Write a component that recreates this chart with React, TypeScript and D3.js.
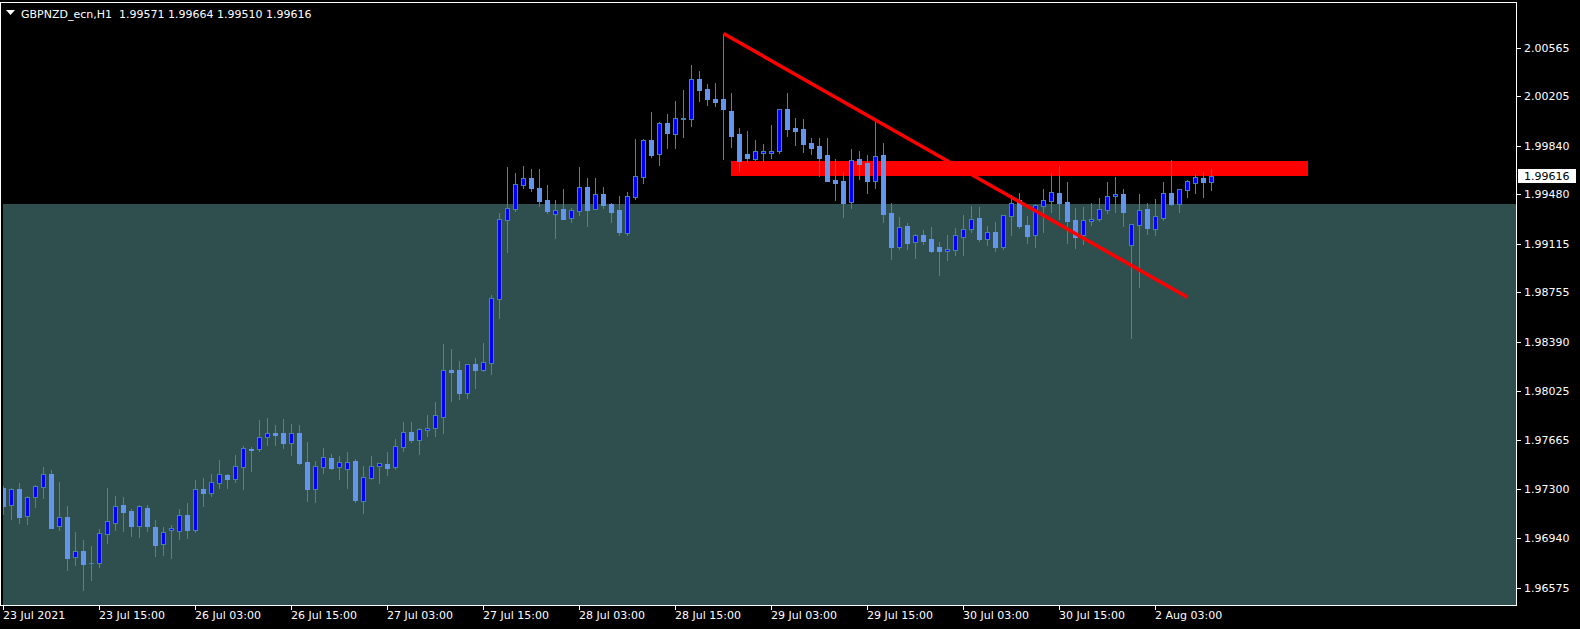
import React from 'react';
import * as d3 from 'd3';

const W = 1580;
const H = 629;

const opens = [1.97310,1.97182,1.97301,1.97101,1.97241,1.97315,1.97414,1.97027,1.97096,1.96798,1.96845,1.96754,1.96754,1.96968,1.97049,1.97185,1.97140,1.97032,1.97162,1.97022,1.96894,1.97002,1.96990,1.97111,1.97002,1.97303,1.97275,1.97349,1.97404,1.97379,1.97468,1.97601,1.97601,1.97685,1.97717,1.97713,1.97645,1.97713,1.97502,1.97305,1.97468,1.97532,1.97468,1.97453,1.97510,1.97212,1.97386,1.97471,1.97488,1.97468,1.97615,1.97724,1.97667,1.97741,1.97756,1.97837,1.98182,1.98182,1.98014,1.98227,1.98182,1.98236,1.98709,1.99293,1.99372,1.99551,1.99601,1.99527,1.99438,1.99332,1.99372,1.99307,1.99359,1.99534,1.99374,1.99483,1.99409,1.99364,1.99197,1.99463,1.99610,1.99881,1.99780,2.00007,1.99928,2.00037,2.00039,2.00332,2.00258,2.00184,2.00184,2.00096,1.99926,1.99778,1.99743,1.99788,1.99788,1.99802,2.00111,1.99970,1.99963,1.99859,1.99837,1.99771,1.99588,1.99579,1.99426,1.99741,1.99712,1.99581,1.99771,1.99342,1.99093,1.99246,1.99126,1.99180,1.99150,1.99091,1.99061,1.99067,1.99167,1.99222,1.99305,1.99152,1.99202,1.99093,1.99322,1.99438,1.99253,1.99177,1.99396,1.99433,1.99490,1.99423,1.99290,1.99177,1.99285,1.99300,1.99366,1.99466,1.99483,1.99108,1.99256,1.99372,1.99226,1.99307,1.99490,1.99411,1.99510,1.99566,1.99601,1.99571];
const highs = [1.97325,1.97310,1.97345,1.97251,1.97335,1.97465,1.97443,1.97355,1.97177,1.96985,1.96926,1.96882,1.97005,1.97310,1.97251,1.97244,1.97157,1.97187,1.97182,1.97074,1.97024,1.97035,1.97155,1.97199,1.97369,1.97384,1.97414,1.97517,1.97414,1.97554,1.97621,1.97613,1.97813,1.97827,1.97776,1.97818,1.97783,1.97776,1.97650,1.97512,1.97606,1.97561,1.97547,1.97576,1.97524,1.97473,1.97547,1.97493,1.97576,1.97672,1.97798,1.97798,1.97751,1.97850,1.97946,1.98374,1.98337,1.98249,1.98225,1.98272,1.98382,1.98736,1.99342,1.99682,1.99638,1.99689,1.99667,1.99667,1.99549,1.99438,1.99520,1.99379,1.99682,1.99601,1.99601,1.99534,1.99416,1.99468,1.99497,1.99889,1.99889,2.00088,2.00014,2.00074,2.00170,2.00251,2.00436,2.00391,2.00295,2.00303,2.00668,2.00229,1.99970,1.99948,1.99881,1.99852,1.99992,2.00108,2.00229,2.00044,2.00037,1.99896,1.99896,1.99896,1.99741,1.99645,1.99815,1.99800,1.99771,2.00014,1.99859,1.99416,1.99313,1.99268,1.99185,1.99219,1.99239,1.99128,1.99180,1.99231,1.99327,1.99394,1.99386,1.99246,1.99276,1.99327,1.99475,1.99490,1.99320,1.99409,1.99520,1.99638,1.99689,1.99571,1.99377,1.99386,1.99416,1.99453,1.99571,1.99608,1.99520,1.99259,1.99483,1.99416,1.99446,1.99571,1.99734,1.99517,1.99584,1.99633,1.99645,1.99664];
const lows = [1.97118,1.97083,1.97054,1.97044,1.97172,1.97239,1.97011,1.97000,1.96706,1.96743,1.96556,1.96630,1.96729,1.96906,1.97000,1.96995,1.96956,1.96950,1.96995,1.96810,1.96817,1.96795,1.96936,1.96943,1.96985,1.97177,1.97253,1.97312,1.97312,1.97355,1.97305,1.97438,1.97586,1.97628,1.97628,1.97608,1.97556,1.97490,1.97216,1.97209,1.97423,1.97448,1.97379,1.97312,1.97209,1.97123,1.97379,1.97349,1.97406,1.97451,1.97586,1.97650,1.97561,1.97694,1.97694,1.97714,1.97953,1.97968,1.97973,1.98049,1.98175,1.98153,1.98566,1.99054,1.99357,1.99529,1.99507,1.99396,1.99344,1.99160,1.99296,1.99278,1.99327,1.99248,1.99374,1.99381,1.99278,1.99182,1.99182,1.99448,1.99566,1.99758,1.99699,1.99825,1.99825,1.99906,1.99987,2.00172,2.00142,2.00135,1.99743,1.99832,1.99655,1.99721,1.99732,1.99726,1.99751,1.99788,1.99913,1.99847,1.99795,1.99780,1.99616,1.99575,1.99438,1.99315,1.99381,1.99593,1.99492,1.99529,1.99278,1.99004,1.99078,1.99078,1.99012,1.99115,1.99056,1.98884,1.98995,1.99032,1.99032,1.99204,1.99137,1.99106,1.99061,1.99078,1.99180,1.99234,1.99123,1.99091,1.99202,1.99349,1.99300,1.99120,1.99086,1.99113,1.99253,1.99285,1.99342,1.99349,1.99246,1.98419,1.98798,1.99187,1.99180,1.99293,1.99401,1.99349,1.99463,1.99490,1.99460,1.99510];
const closes = [1.97177,1.97301,1.97098,1.97241,1.97323,1.97411,1.97017,1.97094,1.96795,1.96842,1.96751,1.96756,1.96975,1.97064,1.97175,1.97135,1.97032,1.97175,1.97032,1.96891,1.96983,1.97015,1.97108,1.97002,1.97303,1.97275,1.97352,1.97411,1.97379,1.97471,1.97604,1.97593,1.97685,1.97714,1.97704,1.97645,1.97714,1.97495,1.97303,1.97471,1.97537,1.97458,1.97500,1.97500,1.97222,1.97389,1.97471,1.97493,1.97460,1.97621,1.97722,1.97667,1.97744,1.97754,1.97847,1.98180,1.98167,1.98012,1.98225,1.98182,1.98239,1.98714,1.99298,1.99377,1.99556,1.99601,1.99529,1.99431,1.99357,1.99362,1.99300,1.99362,1.99534,1.99364,1.99483,1.99401,1.99352,1.99202,1.99468,1.99616,1.99881,1.99773,2.00007,1.99935,2.00044,2.00044,2.00332,2.00253,2.00187,2.00164,2.00113,1.99913,1.99729,1.99751,1.99800,1.99802,1.99802,2.00108,1.99965,1.99948,1.99854,1.99825,1.99749,1.99581,1.99566,1.99416,1.99734,1.99706,1.99581,1.99761,1.99337,1.99093,1.99241,1.99120,1.99177,1.99135,1.99061,1.99064,1.99076,1.99177,1.99222,1.99298,1.99150,1.99200,1.99091,1.99325,1.99414,1.99248,1.99174,1.99403,1.99436,1.99497,1.99418,1.99283,1.99167,1.99288,1.99298,1.99369,1.99466,1.99480,1.99349,1.99259,1.99362,1.99231,1.99318,1.99490,1.99409,1.99517,1.99576,1.99606,1.99573,1.99616];

const priceTicks = [2.00565, 2.00205, 1.9984, 1.9948, 1.99115, 1.98755, 1.9839, 1.98025, 1.97665, 1.973, 1.9694, 1.96575];
const timeLabels = ["23 Jul 2021", "23 Jul 15:00", "26 Jul 03:00", "26 Jul 15:00", "27 Jul 03:00", "27 Jul 15:00", "28 Jul 03:00", "28 Jul 15:00", "29 Jul 03:00", "29 Jul 15:00", "30 Jul 03:00", "30 Jul 15:00", "2 Aug 03:00"];
const timeLabelBars = [0, 12, 24, 36, 48, 60, 72, 84, 96, 108, 120, 132, 144];

const symbolTitle = "GBPNZD_ecn,H1";
const lastBar = { open: 1.99571, high: 1.99664, low: 1.9951, close: 1.99616 };

const trendLine = { bar1: 90, price1: 2.00668, bar2: 148, price2: 1.98719 };
const zoneRect = { bar1: 91, bar2: 163, top: 1.99726, bottom: 1.99618 };
const shadeTop = 1.99409;

const PLOT = { left: 0, right: 1516, top: 2, bottom: 605 };
const C = {
  bg: '#000000',
  shade: '#2F4F4F',
  bullFill: '#0000FF',
  edge: '#4682B4',
  bearFill: '#6495ED',
  red: '#FF0000',
  frame: '#FFFFFF',
  text: '#FFFFFF',
};
const FONT = '"DejaVu Sans", Verdana, sans-serif';

export default function App() {
  const x = d3.scaleLinear().domain([0, 189]).range([3.5, 3.5 + 8 * 189]);
  const y = d3.scaleLinear().domain([1.964457, 2.009012]).range([605, 2]);

  const candles = opens.map((o, i) => {
    const h = highs[i], l = lows[i], c = closes[i];
    const cx = Math.floor(x(i));
    const yH = Math.round(y(h));
    const yL = Math.round(y(l));
    const yO = Math.round(y(o));
    const yC = Math.round(y(c));
    const top = Math.min(yO, yC);
    const bot = Math.max(yO, yC);
    const bh = bot - top + 1;
    const bull = c >= o;
    return (
      <g key={i}>
        <rect x={cx} y={yH} width={1} height={yL - yH + 1} fill={C.edge} />
        {bull ? (
          <>
            <rect x={cx - 2} y={top} width={5} height={bh} fill={C.edge} />
            {bh > 2 && <rect x={cx - 1} y={top + 1} width={3} height={bh - 2} fill={C.bullFill} />}
          </>
        ) : (
          <rect x={cx - 2} y={top} width={5} height={bh} fill={C.bearFill} />
        )}
      </g>
    );
  });

  const priceFmt = d3.format('.5f');
  const lastY = y(lastBar.close);
  const innerLeft = 3;

  return (
    <svg width={W} height={H} style={{ display: 'block', position: 'absolute', left: 0, top: 0, background: C.bg }}>
      <defs>
        <clipPath id="plotClip">
          <rect x={innerLeft} y={PLOT.top + 1} width={PLOT.right - innerLeft} height={PLOT.bottom - PLOT.top - 1} />
        </clipPath>
      </defs>
      <rect x={0} y={0} width={W} height={H} fill={C.bg} />
      <g clipPath="url(#plotClip)" shapeRendering="crispEdges">
        <rect x={innerLeft} y={Math.round(y(shadeTop))} width={PLOT.right - innerLeft} height={PLOT.bottom - Math.round(y(shadeTop))} fill={C.shade} />
        <rect
          x={Math.round(x(zoneRect.bar1))}
          y={Math.round(y(zoneRect.top))}
          width={Math.round(x(zoneRect.bar2)) - Math.round(x(zoneRect.bar1))}
          height={Math.round(y(zoneRect.bottom)) - Math.round(y(zoneRect.top))}
          fill={C.red}
        />
        {candles}
      </g>
      <g clipPath="url(#plotClip)">
        <line
          x1={x(trendLine.bar1)}
          y1={y(trendLine.price1)}
          x2={x(trendLine.bar2)}
          y2={y(trendLine.price2)}
          stroke={C.red}
          strokeWidth={3.5}
        />
      </g>
      {/* frame */}
      <rect x={PLOT.left + 0.5} y={PLOT.top + 0.5} width={PLOT.right - PLOT.left} height={PLOT.bottom - PLOT.top} fill="none" stroke={C.frame} strokeWidth={1} shapeRendering="crispEdges" />
      {/* price axis */}
      <g fontFamily={FONT} fontSize={11} fill={C.text}>
        {priceTicks.map((p, k) => {
          const ty = Math.round(y(p));
          return (
            <g key={k}>
              <rect x={PLOT.right + 1} y={ty} width={4} height={1} fill={C.frame} />
              <text x={1524} y={ty + 4}>{priceFmt(p)}</text>
            </g>
          );
        })}
        <rect x={PLOT.right + 2} y={Math.round(lastY) - 7} width={58} height={14} fill="#FFFFFF" />
        <text x={1524} y={Math.round(lastY) + 4} fill="#000000">{priceFmt(lastBar.close)}</text>
      </g>
      {/* time axis */}
      <g fontFamily={FONT} fontSize={11} fill={C.text}>
        {timeLabelBars.map((b, k) => {
          const tx = Math.floor(x(b));
          return (
            <g key={k}>
              <rect x={tx} y={PLOT.bottom + 1} width={1} height={4} fill={C.frame} />
              <text x={tx} y={619}>{timeLabels[k]}</text>
            </g>
          );
        })}
      </g>
      {/* header */}
      <polygon points="6,10 15,10 10.5,15" fill={C.text} />
      <text x={21} y={18} fontFamily={FONT} fontSize={11} fill={C.text} style={{ whiteSpace: 'pre' }}>
        {`${symbolTitle}  ${priceFmt(lastBar.open)} ${priceFmt(lastBar.high)} ${priceFmt(lastBar.low)} ${priceFmt(lastBar.close)}`}
      </text>
    </svg>
  );
}
